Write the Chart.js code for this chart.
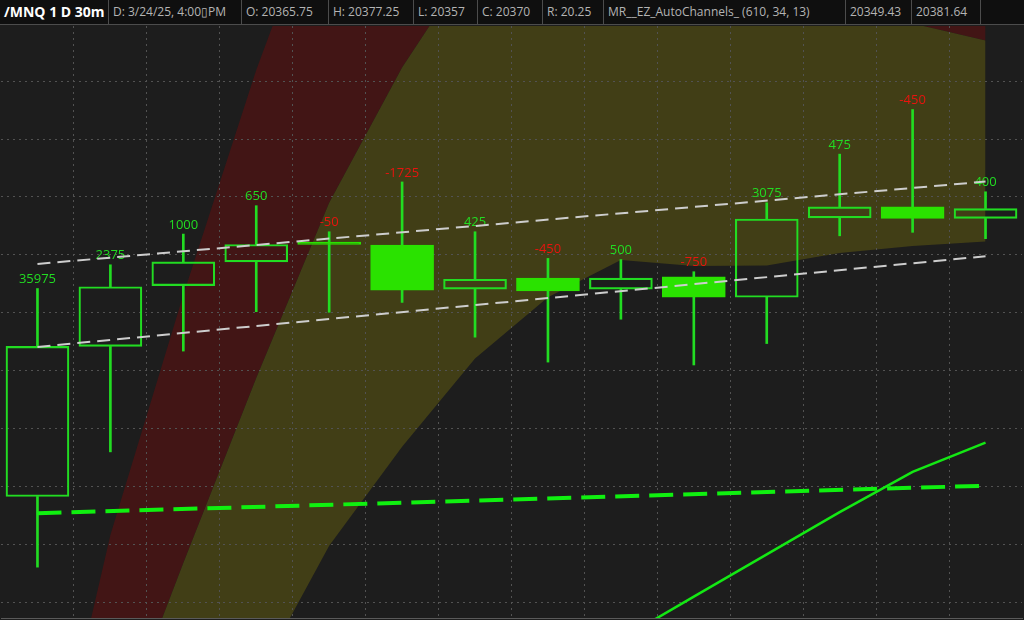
<!DOCTYPE html>
<html>
<head>
<meta charset="utf-8">
<script src="https://cdn.jsdelivr.net/npm/chart.js@4.4.1/dist/chart.umd.min.js"></script>
<style>
  html, body { margin: 0; padding: 0; width: 1024px; height: 620px; overflow: hidden; background: #1d1d1d; }
  #header { position: absolute; left: 0; top: 0; width: 1024px; height: 24px; background: #0f0f0f;
            border-bottom: 1px solid #4c4c4c; font-family: "Open Sans", sans-serif; font-size: 12px; color: #b4b4b4; }
  .cell { position: absolute; top: 0; height: 24px; line-height: 24px; border-right: 1px solid #4c4c4c;
          padding-left: 4px; white-space: nowrap; overflow: hidden; box-sizing: border-box; }
  .sym { font-weight: bold; font-size: 14px; color: #ffffff; }
  #wrap { position: absolute; left: 0; top: 25px; width: 1024px; height: 595px; }
</style>
</head>
<body>
<div id="header">
  <div class="cell sym" style="left:0;width:109px">/MNQ 1 D 30m</div>
  <div class="cell" style="left:109px;width:133px">D: 3/24/25, 4:00&#x25AF;PM</div>
  <div class="cell" style="left:242px;width:87px">O: 20365.75</div>
  <div class="cell" style="left:329px;width:85px">H: 20377.25</div>
  <div class="cell" style="left:414px;width:64px">L: 20357</div>
  <div class="cell" style="left:478px;width:65px">C: 20370</div>
  <div class="cell" style="left:543px;width:61px">R: 20.25</div>
  <div class="cell" style="left:604px;width:242px">MR__EZ_AutoChannels_ (610, 34, 13)</div>
  <div class="cell" style="left:846px;width:66px">20349.43</div>
  <div class="cell" style="left:912px;width:69px">20381.64</div>
</div>
<div id="wrap"><canvas id="chart" width="1024" height="595"></canvas></div>
<script>
// 30m bars, index 0..13
const bars   = [0, 1, 2, 3, 4, 5, 6, 7, 8, 9, 10, 11, 12, 13];
const opens  = [20245.75, 20310.5, 20336.75, 20347, 20354.75, 20354.25, 20335.25, 20340, 20335.25, 20340.5, 20331.75, 20366, 20370.75, 20365.75];
const highs  = [20335.5, 20345.75, 20359, 20371.25, 20360, 20381.5, 20360, 20348.5, 20348, 20342.75, 20372.5, 20393.5, 20412.75, 20377.25];
const lows   = [20215.25, 20265, 20308.5, 20325.5, 20325.25, 20329.5, 20314.5, 20303.75, 20322.25, 20302.5, 20311.75, 20358.25, 20359.75, 20357];
const closes = [20310.5, 20336.25, 20347, 20354.5, 20354.5, 20334.75, 20339.5, 20334.5, 20340, 20331.75, 20365.5, 20370.75, 20365.75, 20370];
const deltas = [35975, 2375, 1000, 650, -50, -1725, 425, -450, 500, -750, 3075, 475, -450, 400];

// shaded channel bands (edges per bar)
const bandTop = [20093.2, 20229.1, 20332.7, 20429.8, 20514.8, 20600, 20650, 20700, 20720, 20740, 20750, 20760, 20770, 20780];
const bandMid = [20050.9, 20135.0, 20217.0, 20296.9, 20372.5, 20430.9, 20478.6, 20516.1, 20537.7, 20546.3, 20537.7, 20503.2, 20449.9, 20442.5];
const bandLow = [19985.3, 20045.7, 20106.5, 20166.5, 20224.5, 20267.2, 20305.3, 20331.7, 20347.8, 20345.2, 20345.4, 20350.8, 20353.9, 20355.8];

// straight channel lines: first and last bar
const lineEnds     = [0, 13];
const upperChannel = [20346.1, 20381.64];
const lowerChannel = [20310.3, 20349.43];
const longTrend    = [20238.5, 20250.4];

// fast trend line
const fastBars  = [8, 9, 10, 11, 12, 13];
const fastTrend = [20184.2, 20202.5, 20220.75, 20239, 20256.4, 20269];

const priceTicks = [20200, 20225, 20250, 20275, 20300, 20325, 20350, 20375, 20400, 20425];

const upColor = '#22dc22';
const downFill = '#2ae200';
const isDown = i => closes[i] < opens[i];

const pts = (xs, ys) => xs.map((x, k) => ({ x: x, y: ys[k] }));

const deltaLabels = {
  id: 'deltaLabels',
  beforeDatasetsDraw(chart) {
    const { ctx, scales: { x, y } } = chart;
    ctx.save();
    ctx.font = '13px "Open Sans"';
    ctx.textAlign = 'center';
    ctx.textBaseline = 'middle';
    deltas.forEach((d, i) => {
      ctx.fillStyle = d < 0 ? '#e8140e' : '#22dc22';
      ctx.fillText(String(d), x.getPixelForValue(i), y.getPixelForValue(highs[i]) - 9);
    });
    ctx.restore();
  }
};

const clear = 'rgba(0,0,0,0)';

new Chart(document.getElementById('chart'), {
  type: 'bar',
  data: {
    datasets: [
      { type: 'line', data: pts(bars, bandTop), borderColor: clear, borderWidth: 0, pointRadius: 0,
        fill: '+1', backgroundColor: '#421515', order: 20 },
      { type: 'line', data: pts(bars, bandMid), borderColor: clear, borderWidth: 0, pointRadius: 0,
        fill: '+1', backgroundColor: '#413e16', order: 19 },
      { type: 'line', data: pts(bars, bandLow), borderColor: clear, borderWidth: 0, pointRadius: 0,
        fill: false, order: 18 },

      { data: bars.map(i => ({ x: i, y: [Math.max(opens[i], closes[i]), highs[i]] })),
        backgroundColor: upColor, barThickness: 2, grouped: false, order: 10 },
      { data: bars.map(i => ({ x: i, y: [lows[i], Math.min(opens[i], closes[i])] })),
        backgroundColor: upColor, barThickness: 2, grouped: false, order: 10 },
      { data: bars.map(i => ({ x: i, y: [opens[i], closes[i]] })),
        backgroundColor: c => isDown(c.dataIndex) ? downFill : clear,
        borderColor: c => isDown(c.dataIndex) ? downFill : upColor,
        borderWidth: 1.5, borderSkipped: false, barThickness: 63, minBarLength: 2.5,
        grouped: false, order: 9 },

      { type: 'line', data: pts(lineEnds, upperChannel), borderColor: '#cdcdcd', borderWidth: 2,
        borderDash: [13, 7], pointRadius: 0, fill: false, order: 2 },
      { type: 'line', data: pts(lineEnds, lowerChannel), borderColor: '#cdcdcd', borderWidth: 2,
        borderDash: [13, 7], pointRadius: 0, fill: false, order: 2 },
      { type: 'line', data: pts(lineEnds, longTrend), borderColor: '#10f010', borderWidth: 4,
        borderDash: [24, 10], pointRadius: 0, fill: false, order: 1 },
      { type: 'line', data: pts(fastBars, fastTrend), borderColor: '#14e814', borderWidth: 2.5,
        pointRadius: 0, fill: false, order: 1 }
    ]
  },
  options: {
    responsive: false,
    animation: false,
    devicePixelRatio: 1,
    layout: { padding: { left: 1, right: 2, top: 1, bottom: 2 } },
    plugins: {
      legend: { display: false },
      tooltip: { enabled: false },
      filler: { drawTime: 'beforeDraw' }
    },
    scales: {
      x: {
        type: 'linear', min: -0.5, max: 13.5, offset: false,
        afterBuildTicks: s => { s.ticks = bars.slice(1).map(i => ({ value: i - 0.5 })); },
        ticks: { display: false },
        grid: { color: '#525252', lineWidth: 1, drawTicks: false, offset: false },
        border: { display: true, color: '#5a5a5a', dash: [2, 4] }
      },
      y: {
        type: 'linear', min: 20193.3, max: 20448.8,
        afterBuildTicks: s => { s.ticks = priceTicks.map(v => ({ value: v })); },
        ticks: { display: false },
        grid: { color: '#525252', lineWidth: 1, drawTicks: false },
        border: { display: false, dash: [2, 4] }
      }
    }
  },
  plugins: [deltaLabels]
});
</script>
</body>
</html>
